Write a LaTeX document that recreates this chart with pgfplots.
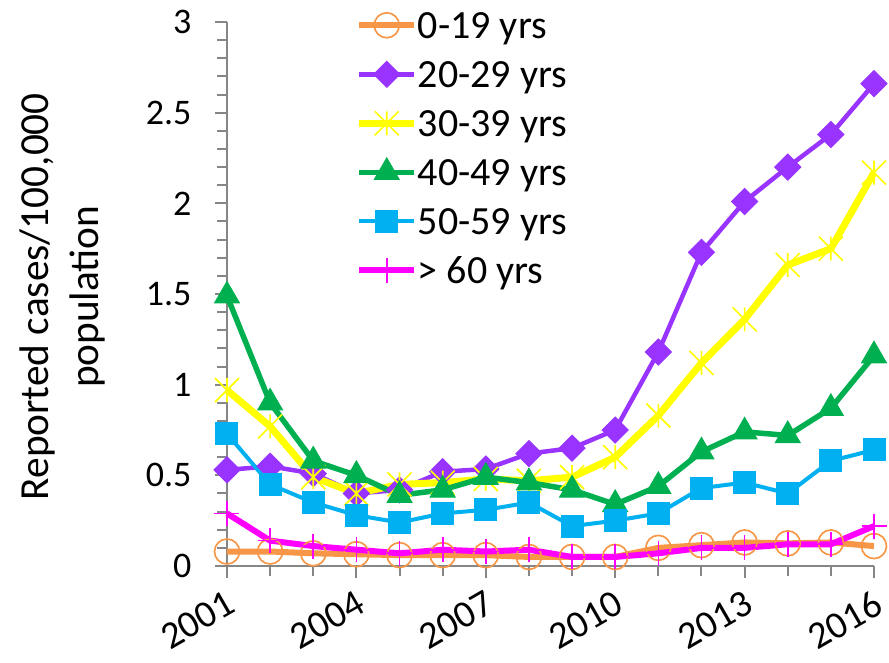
\documentclass[border=0pt]{standalone}
\usepackage{pgfplots}
\pgfplotsset{compat=1.18}
\usepackage{fontspec}
\setmainfont{Carlito}
\definecolor{corange}{HTML}{F79646}
\definecolor{cpurple}{HTML}{9933FF}
\definecolor{cyellow}{HTML}{FFFF00}
\definecolor{cgreen}{HTML}{00B050}
\definecolor{cblue}{HTML}{00B0F0}
\definecolor{cmagenta}{HTML}{FF00FF}
\definecolor{axgray}{HTML}{868686}
\pgfdeclareplotmark{xstar}{%
  \pgfpathmoveto{\pgfqpoint{0pt}{\pgfplotmarksize}}%
  \pgfpathlineto{\pgfqpoint{0pt}{-\pgfplotmarksize}}%
  \pgfpathmoveto{\pgfqpoint{-\pgfplotmarksize}{\pgfplotmarksize}}%
  \pgfpathlineto{\pgfqpoint{\pgfplotmarksize}{-\pgfplotmarksize}}%
  \pgfpathmoveto{\pgfqpoint{-\pgfplotmarksize}{-\pgfplotmarksize}}%
  \pgfpathlineto{\pgfqpoint{\pgfplotmarksize}{\pgfplotmarksize}}%
  \pgfusepathqstroke}
\pgfdeclareplotmark{sqdiamond}{%
  \pgfpathmoveto{\pgfqpoint{0pt}{\pgfplotmarksize}}%
  \pgfpathlineto{\pgfqpoint{\pgfplotmarksize}{0pt}}%
  \pgfpathlineto{\pgfqpoint{0pt}{-\pgfplotmarksize}}%
  \pgfpathlineto{\pgfqpoint{-\pgfplotmarksize}{0pt}}%
  \pgfpathclose
  \pgfusepathqfillstroke}
\begin{document}
\begin{tikzpicture}
\begin{axis}[
  name=ax,
  scale only axis,
  width=194.1pt, height=163.2pt,
  xmin=2001, xmax=2016, ymin=0, ymax=3,
  clip=false,
  axis x line*=bottom, axis y line*=left,
  axis line style={-, draw=axgray, line width=0.6pt},
  tick style={draw=axgray, line width=0.6pt},
  tick align=outside,
  major tick length=3.5pt, minor tick length=3pt,
  xtick={2001,2004,2007,2010,2013,2016},
  xticklabels={2001,2004,2007,2010,2013,2016},
  minor xtick={2001,...,2016},
  ytick={0,0.5,1,1.5,2,2.5,3},
  yticklabels={0,0.5,1,1.5,2,2.5,3},
  minor ytick={0,0.1,...,3},
  ticklabel style={font=\fontsize{10.8}{13}\selectfont, text=black},
  xticklabel style={font=\fontsize{11.5}{13}\selectfont, rotate=30, anchor=north east, inner sep=0pt, yshift=-2.6pt, xshift=-2.1pt},
  yticklabel style={inner sep=0pt, xshift=-7pt},
  ylabel={Reported cases/100,000\\population},
  ylabel style={align=center, font=\fontsize{12.4}{15}\selectfont, at={(axis description cs:-0.255,0.495)}, anchor=center},
  legend style={draw=none, fill=none, at={(0.198,1.0289)}, anchor=north west,
    font=\fontsize{12}{14}\selectfont, row sep=2.2pt, inner sep=0pt,
    nodes={inner sep=0pt, text height=9.5pt, text depth=3pt, anchor=base west}},
  legend cell align=left,
  legend image code/.code={%
    \path[draw=none,fill=none] (0pt,-3pt) rectangle (16.5pt,9.5pt);
    \draw[yshift=4pt,mark repeat=2,mark phase=2,#1] plot coordinates {(0pt,0pt) (8.25pt,0pt) (16.5pt,0pt)};},
]
\addplot[color=corange, line width=1.8pt, mark=o, mark size=3.75pt, mark options={line width=0.5pt, fill=none}]
coordinates {(2001,0.08)(2002,0.08)(2003,0.07)(2004,0.065)(2005,0.06)(2006,0.06)(2007,0.06)(2008,0.05)(2009,0.05)(2010,0.05)(2011,0.10)(2012,0.115)(2013,0.13)(2014,0.125)(2015,0.13)(2016,0.11)};
\addlegendentry{0-19 yrs}
\addplot[color=cpurple, line width=1.35pt, mark=sqdiamond, mark size=3.9pt, mark options={line width=0.3pt}]
coordinates {(2001,0.53)(2002,0.55)(2003,0.51)(2004,0.40)(2005,0.42)(2006,0.52)(2007,0.535)(2008,0.62)(2009,0.65)(2010,0.75)(2011,1.18)(2012,1.73)(2013,2.01)(2014,2.20)(2015,2.38)(2016,2.66)};
\addlegendentry{20-29 yrs}
\addplot[color=cyellow, line width=2.1pt, mark=xstar, mark size=3.6pt, mark options={line width=0.5pt}]
coordinates {(2001,0.97)(2002,0.77)(2003,0.49)(2004,0.40)(2005,0.45)(2006,0.46)(2007,0.48)(2008,0.47)(2009,0.49)(2010,0.60)(2011,0.83)(2012,1.12)(2013,1.36)(2014,1.66)(2015,1.75)(2016,2.17)};
\addlegendentry{30-39 yrs}
\addplot[color=cgreen, line width=1.65pt, mark=triangle*, mark size=4.3pt, mark options={line width=0.3pt}]
coordinates {(2001,1.49)(2002,0.90)(2003,0.58)(2004,0.50)(2005,0.39)(2006,0.42)(2007,0.49)(2008,0.46)(2009,0.42)(2010,0.34)(2011,0.44)(2012,0.63)(2013,0.74)(2014,0.72)(2015,0.87)(2016,1.16)};
\addlegendentry{40-49 yrs}
\addplot[color=cblue, line width=1.2pt, mark=square*, mark size=3.3pt, mark options={line width=0.3pt}]
coordinates {(2001,0.73)(2002,0.45)(2003,0.35)(2004,0.28)(2005,0.24)(2006,0.29)(2007,0.31)(2008,0.35)(2009,0.22)(2010,0.25)(2011,0.29)(2012,0.43)(2013,0.46)(2014,0.40)(2015,0.58)(2016,0.64)};
\addlegendentry{50-59 yrs}
\addplot[color=cmagenta, line width=1.8pt, mark=+, mark size=3.75pt, mark options={line width=0.5pt}]
coordinates {(2001,0.29)(2002,0.14)(2003,0.11)(2004,0.09)(2005,0.07)(2006,0.09)(2007,0.08)(2008,0.09)(2009,0.05)(2010,0.05)(2011,0.07)(2012,0.10)(2013,0.10)(2014,0.12)(2015,0.12)(2016,0.22)};
\addlegendentry{> 60 yrs}
\end{axis}
\pgfresetboundingbox
\path ([shift={(-68.1pt,-28.8pt)}]ax.south west) rectangle ([shift={(198.6pt,169.8pt)}]ax.south west);
\end{tikzpicture}
\end{document}
